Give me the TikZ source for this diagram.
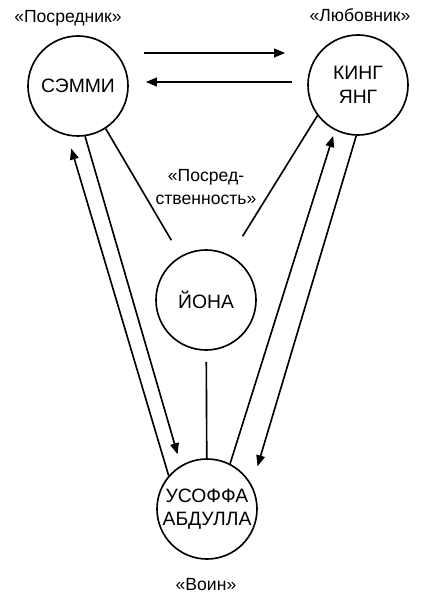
\documentclass[tikz,border=0pt]{standalone}
\usepackage{fontspec}
\setmainfont{Liberation Sans}
\usetikzlibrary{arrows.meta}

\begin{document}
\begin{tikzpicture}[x=0.03cm,y=-0.03cm,line width=1.4pt,person/.style={draw,circle,minimum size=3cm,inner sep=0pt,align=center,font=\fontsize{16.5}{20}\selectfont},role/.style={font=\fontsize{15}{20}\selectfont,align=center,anchor=base},link/.style={line width=1.4pt},arr/.style={link,-{Triangle[length=3.3mm,width=2.6mm]}}]
\useasboundingbox (0,0) rectangle (424,598);
\node[person](sammy) at (78,86){СЭММИ};
\node[person](king) at (358,85){КИНГ\\ЯНГ};
\node[person](jona) at (206,300){ЙОНА};
\node[person](usoffa) at (207,509){УСОФФА\\АБДУЛЛА};
\node[role](lbsammy) at (68,23){«Посредник»};
\node[role](lbking) at (360,22){«Любовник»};
\node[role,anchor=center](lbjona) at (206,187){«Посред-\\ственность»};
\node[role](lbusoffa) at (206,590){«Воин»};
\draw[arr]([shift={(15,-33)}]sammy.east)--([shift={(-22,-32)}]king.west);
\draw[arr]([shift={(-15,-3)}]king.west)--([shift={(17,-4)}]sammy.east);
\draw[link,shorten >=0.55cm](sammy.-57)--(jona.120);
\draw[link,shorten >=0.68cm](king.-143)--(jona.61);
\draw[link,shorten <=0.33cm](jona)--(usoffa);
\draw[arr,shorten >=0.4cm](usoffa.139)--(sammy.-102);
\draw[arr,shorten >=0.35cm](sammy.-82)--(usoffa.121);
\draw[arr,shorten >=0.18cm](usoffa.63)--(king.-117);
\draw[arr,shorten >=0.59cm](king.-92)--(usoffa.28);
\end{tikzpicture}
\end{document}
